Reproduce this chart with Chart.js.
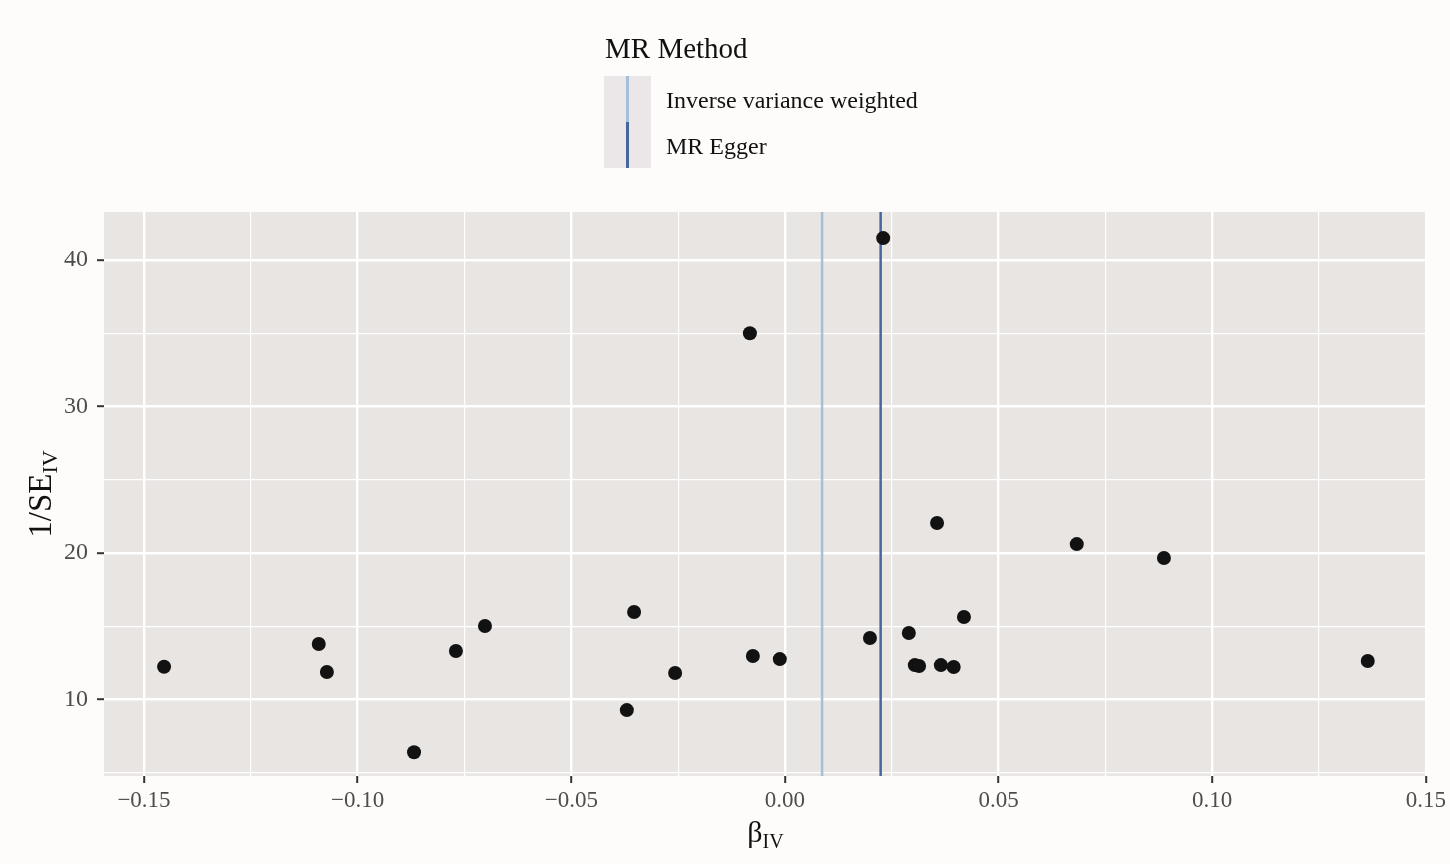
<!DOCTYPE html>
<html><head><meta charset="utf-8">
<script src="https://cdn.jsdelivr.net/npm/chart.js@4.4.1/dist/chart.umd.min.js"></script>
<style>
html,body{margin:0;padding:0;background:#fdfcfb;}
canvas{display:block;}
</style></head><body>
<canvas id="c" width="1450" height="864"></canvas>
<script>
// ---- data ----
const betaIV = [-0.1453,-0.1091,-0.1072,-0.0868,-0.0770,-0.0702,-0.0370,-0.0353,-0.0257,-0.0082,-0.0075,-0.0012,
                 0.0199, 0.0230, 0.0290, 0.0304, 0.0314, 0.0356, 0.0365, 0.0395, 0.0419, 0.0683, 0.0887, 0.1364];
const invSE  = [12.24,13.79,11.88,6.40,13.31,15.02,9.28,15.97,11.81,35.0,12.97,12.76,
                14.20,41.5,14.54,12.35,12.29,22.05,12.35,12.22,15.63,20.61,19.66,12.63];
const methods = ['Inverse variance weighted','MR Egger'];
const methodEstimates = [0.0087, 0.0224];
const methodColors = ['#a3bfd9','#46679c'];
const xMajorTicks = [-0.15,-0.10,-0.05,0.00,0.05,0.10,0.15];
const xMinorTicks = [-0.125,-0.075,-0.025,0.025,0.075,0.125];
const yMajorTicks = [10,20,30,40];
const yMinorTicks = [5,15,25,35];
const X_MIN = -0.15936, X_MAX = 0.15023, Y_MIN = 4.78, Y_MAX = 43.28;

const SERIF = '"Liberation Serif","Times New Roman",serif';
const isMajor = (arr, v) => arr.some(m => Math.abs(m - v) < 1e-9);
const fmtX = v => (Math.abs(v) < 1e-9 ? '0.00' : v.toFixed(2).replace('-', '\u2212'));

const bgPlugin = {
  id: 'bg',
  beforeDraw(chart) {
    const {ctx, chartArea: a} = chart;
    ctx.save();
    ctx.fillStyle = '#fdfcfb';
    ctx.fillRect(0, 0, chart.width, chart.height);
    ctx.fillStyle = '#e8e5e3';
    ctx.fillRect(a.left, a.top, a.right - a.left, a.bottom - a.top);
    ctx.restore();
  }
};

const decorPlugin = {
  id: 'decor',
  afterDraw(chart) {
    const {ctx, chartArea: a} = chart;
    ctx.save();
    ctx.fillStyle = '#111';
    ctx.textBaseline = 'alphabetic';
    // x title beta_IV
    const cx = (a.left + a.right) / 2;
    ctx.font = '30px ' + SERIF;
    const wB = ctx.measureText('\u03b2').width;
    ctx.font = '20px ' + SERIF;
    const wS = ctx.measureText('IV').width;
    let x0 = cx - (wB + wS) / 2;
    ctx.textAlign = 'left';
    ctx.font = '30px ' + SERIF;
    ctx.fillText('\u03b2', x0, 842);
    ctx.font = '20px ' + SERIF;
    ctx.fillText('IV', x0 + wB, 848);
    // y title 1/SE_IV
    const cy = (a.top + a.bottom) / 2;
    ctx.save();
    ctx.translate(51, cy);
    ctx.rotate(-Math.PI / 2);
    ctx.font = '33px ' + SERIF;
    const w1 = ctx.measureText('1/SE').width;
    ctx.font = '22px ' + SERIF;
    const w2 = ctx.measureText('IV').width;
    const s0 = -(w1 + w2) / 2;
    ctx.font = '33px ' + SERIF;
    ctx.fillText('1/SE', s0, 0);
    ctx.font = '22px ' + SERIF;
    ctx.fillText('IV', s0 + w1, 6);
    ctx.restore();
    // legend
    ctx.font = '29px ' + SERIF;
    ctx.fillText('MR Method', 605, 58);
    ctx.fillStyle = '#ebe7e8';
    ctx.fillRect(604, 76, 47, 92);
    methods.forEach((m, i) => {
      ctx.fillStyle = methodColors[i];
      ctx.fillRect(626, 76 + i * 46, 3, 46);
      ctx.fillStyle = '#111';
      ctx.font = '24px ' + SERIF;
      ctx.fillText(m, 666, 108 + i * 46);
    });
    ctx.restore();
  }
};

new Chart(document.getElementById('c'), {
  type: 'scatter',
  data: {
    datasets: [
      {
        type: 'scatter',
        data: betaIV.map((b, i) => ({x: b, y: invSE[i]})),
        pointRadius: 7, pointHoverRadius: 7,
        backgroundColor: '#121212', borderWidth: 0, order: 0
      },
      ...methods.map((m, i) => ({
        type: 'line', label: m,
        data: [{x: methodEstimates[i], y: Y_MIN}, {x: methodEstimates[i], y: Y_MAX}],
        borderColor: methodColors[i], borderWidth: 2.5, pointRadius: 0,
        order: 1, clip: 0
      }))
    ]
  },
  options: {
    responsive: false, animation: false,
    layout: {padding: {top: 212, right: 23, left: 0, bottom: 0}},
    plugins: {legend: {display: false}, tooltip: {enabled: false}},
    scales: {
      x: {
        type: 'linear', min: X_MIN, max: X_MAX,
        afterBuildTicks: s => { s.ticks = [...xMajorTicks, ...xMinorTicks].sort((p, q) => p - q).map(v => ({value: v})); },
        afterFit: s => { s.height = 88; },
        border: {display: false},
        grid: {
          color: '#ffffff',
          lineWidth: c => isMajor(xMajorTicks, c.tick.value) ? 2.4 : 1.2,
          tickColor: c => isMajor(xMajorTicks, c.tick.value) ? '#333333' : 'rgba(0,0,0,0)',
          tickLength: 7, tickWidth: 2
        },
        ticks: {
          autoSkip: false, maxRotation: 0, padding: 4,
          color: '#4d4d4d', font: {family: SERIF, size: 23},
          callback: v => isMajor(xMajorTicks, v) ? fmtX(v) : ''
        }
      },
      y: {
        type: 'linear', min: Y_MIN, max: Y_MAX,
        afterBuildTicks: s => { s.ticks = [...yMajorTicks, ...yMinorTicks].sort((p, q) => p - q).map(v => ({value: v})); },
        afterFit: s => { s.width = 104; },
        border: {display: false},
        grid: {
          color: '#ffffff',
          lineWidth: c => isMajor(yMajorTicks, c.tick.value) ? 2.4 : 1.2,
          tickColor: c => isMajor(yMajorTicks, c.tick.value) ? '#333333' : 'rgba(0,0,0,0)',
          tickLength: 7, tickWidth: 2
        },
        ticks: {
          autoSkip: false, padding: 9,
          color: '#4d4d4d', font: {family: SERIF, size: 24},
          callback: v => isMajor(yMajorTicks, v) ? String(v) : ''
        }
      }
    }
  },
  plugins: [bgPlugin, decorPlugin]
});
</script>
</body></html>
